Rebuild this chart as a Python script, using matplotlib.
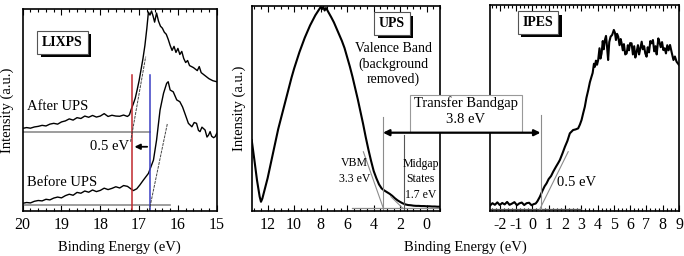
import numpy as np
import matplotlib.pyplot as plt
import matplotlib.patheffects as pe
from matplotlib.patches import ConnectionPatch, Rectangle
from matplotlib.ticker import MultipleLocator

plt.rcParams['font.family'] = ['Liberation Serif', 'DejaVu Serif']
plt.rcParams['axes.unicode_minus'] = False

# ---- LIXPS panel ----
lix_after_x = [20.0, 19.9, 19.8, 19.7, 19.6, 19.5, 19.4, 19.3, 19.2, 19.1,
               19.0, 18.9, 18.8, 18.7, 18.6, 18.5, 18.4, 18.3, 18.2, 18.1,
               18.0, 17.9, 17.8, 17.7, 17.6, 17.5, 17.4, 17.3,
               17.25, 17.2, 17.15, 17.1, 17.05, 17.0, 16.95, 16.9, 16.85, 16.8,
               16.76, 16.72, 16.68, 16.64, 16.6, 16.55, 16.5, 16.45, 16.4, 16.35,
               16.3, 16.25, 16.2, 16.15, 16.1, 16.05, 16.0, 15.95, 15.9, 15.85,
               15.8, 15.75, 15.7, 15.6, 15.5, 15.45, 15.4, 15.3, 15.2, 15.1, 15.0]
lix_after_y = [40.9, 41.3, 41.0, 41.6, 41.9, 42.4, 42.1, 43.0, 43.4, 43.0,
               44.1, 44.6, 45.6, 45.0, 46.2, 45.8, 47.0, 46.4, 47.3, 46.5,
               47.0, 48.2, 46.8, 47.4, 47.0, 46.9, 47.5, 46.8,
               47.6, 50.5, 53.0, 55.8, 60.0, 64.5, 70.0, 75.5, 82.0, 90.5,
               98.5, 97.0, 99.0, 96.5, 93.5, 98.0, 94.0, 91.5, 90.5, 88.5,
               87.5, 85.0, 82.0, 79.5, 81.5, 78.5, 80.5, 77.5, 79.0, 75.5,
               73.5, 74.5, 72.0, 71.0, 69.5, 71.5, 68.5, 67.0, 65.5, 64.5, 64.0]

lix_before_x = [20.0, 19.9, 19.8, 19.7, 19.6, 19.5, 19.4, 19.3, 19.2, 19.1,
                19.0, 18.9, 18.8, 18.7, 18.6, 18.5, 18.4, 18.3, 18.2, 18.1,
                18.0, 17.9, 17.8, 17.7, 17.6, 17.5, 17.4, 17.3, 17.2,
                17.15, 17.06, 16.98, 16.89, 16.76, 16.63, 16.55, 16.46, 16.37, 16.29,
                16.25, 16.2, 16.12, 16.03, 15.95, 15.88, 15.82, 15.73, 15.64, 15.58,
                15.52, 15.47, 15.43, 15.38, 15.3, 15.25, 15.21, 15.17, 15.13, 15.08,
                15.04, 15.0]
lix_before_y = [3.8, 4.2, 4.0, 4.8, 5.2, 5.0, 5.8, 5.5, 6.4, 6.9,
                6.5, 7.6, 8.3, 7.8, 9.2, 8.8, 9.9, 9.3, 10.4, 9.6,
                10.2, 11.3, 10.6, 11.2, 12.0, 11.4, 12.6, 12.2, 10.8,
                10.1, 11.0, 12.9, 15.3, 18.6, 25.2, 35.1, 50.0, 58.3, 63.2,
                64.0, 59.9, 59.0, 55.0, 54.1, 51.5, 48.3, 43.4, 41.7, 43.8,
                43.4, 39.9, 39.3, 41.5, 40.1, 36.6, 37.6, 39.3, 37.0, 36.3,
                36.8, 38.4]

lix_after_base = 39.3
lix_before_base = 3.0
lix_after_edge = 17.19
lix_before_edge = 16.72
lix_after_tangent = ([17.22, 16.83], [34.3, 76.4])
lix_before_tangent = ([16.74, 16.27], [0.2, 43.4])

# ---- UPS panel ----
ups_x = [13.2, 13.0, 12.8, 12.6, 12.5, 12.4, 12.2, 12.0, 11.8, 11.6,
         11.4, 11.2, 11.0, 10.8, 10.6, 10.4, 10.2, 10.0, 9.8, 9.6,
         9.4, 9.2, 9.0, 8.8, 8.6, 8.4, 8.2, 8.0, 7.9, 7.8,
         7.7, 7.6, 7.5, 7.4, 7.2, 7.0, 6.8, 6.6, 6.4, 6.2,
         6.0, 5.8, 5.6, 5.4, 5.2, 5.0, 4.8, 4.6, 4.4, 4.2,
         4.0, 3.8, 3.6, 3.4, 3.2, 3.0, 2.8, 2.6, 2.4, 2.2,
         2.0, 1.8, 1.6, 1.4, 1.2, 1.0, 0.8, 0.6, 0.4, 0.2,
         0.0, -0.2, -0.4, -0.6, -0.8, -1.0]
ups_y = [34.6, 25.0, 15.0, 7.0, 4.5, 6.0, 11.0, 16.0, 22.0, 28.0,
         34.0, 40.0, 45.0, 50.0, 55.0, 60.0, 65.0, 69.5, 73.5, 77.5,
         81.0, 84.5, 87.5, 90.5, 93.0, 95.5, 97.5, 99.5, 98.5, 99.5,
         97.8, 99.0, 98.0, 96.8, 94.5, 92.0, 89.0, 86.0, 83.0, 79.5,
         75.0, 70.5, 65.5, 60.0, 54.5, 48.5, 42.5, 36.0, 30.0, 24.5,
         19.5, 16.0, 13.0, 11.0, 10.0, 9.2, 8.4, 7.4, 6.2, 5.2,
         4.4, 3.7, 3.2, 2.9, 2.8, 2.6, 2.5, 2.5, 2.4, 2.4,
         2.3, 2.3, 2.2, 2.2, 2.1, 2.1]
ups_base = 1.3
ups_vbm = 3.3
ups_midgap = 1.7
ups_vbm_tangent = ([4.78, 3.27], [28.9, 1.3])
ups_mid_tangent = ([2.7, 1.8], [7.0, 1.3])

# ---- IPES panel ----
ipes_x = [-2.6, -2.45, -2.3, -2.15, -2.0, -1.85, -1.7, -1.55, -1.4, -1.25,
          -1.1, -0.95, -0.8, -0.65, -0.5, -0.35, -0.2, -0.05, 0.1, 0.2,
          0.3, 0.46, 0.6, 0.75, 0.87, 1.0, 1.15, 1.28, 1.45, 1.6,
          1.69, 1.85, 2.0, 2.15, 2.3, 2.5, 2.65, 2.81, 2.92, 3.02,
          3.12, 3.22, 3.32, 3.43, 3.53, 3.63, 3.7, 3.78, 3.84, 3.9,
          3.97, 4.04, 4.12, 4.18, 4.25, 4.32, 4.38, 4.45, 4.52, 4.58,
          4.65, 4.72, 4.8, 4.9, 5.0, 5.07, 5.13, 5.2, 5.27, 5.35,
          5.42, 5.48, 5.55, 5.62, 5.7, 5.79, 5.86, 5.93, 6.0, 6.09,
          6.17, 6.25, 6.32, 6.4, 6.48, 6.55, 6.63, 6.71, 6.78, 6.86,
          6.93, 7.01, 7.08, 7.16, 7.24, 7.32, 7.4, 7.48, 7.56, 7.63,
          7.73, 7.8, 7.88, 7.96, 8.04, 8.12, 8.2, 8.28, 8.36, 8.45,
          8.55, 8.66, 8.75, 8.85, 9.0]
ipes_y = [2.6, 3.8, 3.0, 4.2, 2.9, 3.9, 3.2, 4.4, 3.0, 3.6,
          4.3, 2.8, 3.7, 4.1, 2.9, 3.8, 4.0, 2.8, 3.4, 3.6,
          4.6, 6.9, 9.5, 12.0, 13.4, 15.5, 17.0, 19.1, 21.5, 23.5,
          24.8, 28.0, 31.2, 34.0, 37.7, 39.3, 39.6, 40.1, 42.0, 44.2,
          47.5, 50.6, 55.0, 58.7, 62.5, 65.2, 67.0, 71.5, 70.0, 73.0,
          71.0, 73.3, 79.0, 74.0, 76.5, 82.5, 78.5, 83.0, 85.0, 80.0,
          73.3, 82.0, 84.6, 85.5, 87.9, 86.5, 83.0, 86.0, 84.6, 80.5,
          83.5, 81.4, 78.0, 81.0, 76.0, 76.5, 80.5, 78.0, 81.5, 81.4,
          76.0, 80.0, 74.5, 77.3, 80.5, 76.0, 79.0, 82.2, 78.5, 80.0,
          76.5, 74.9, 79.5, 77.0, 82.5, 81.4, 83.0, 77.5, 80.0, 76.0,
          83.8, 82.0, 79.5, 82.0, 78.1, 79.0, 76.5, 80.5, 78.0, 80.6,
          77.0, 73.3, 75.0, 72.5, 70.9]
ipes_base = 0.8
ipes_cbm = 0.5
ipes_tangent = ([0.45, 2.2], [0.8, 28.8])

W, H = 684, 256
fig = plt.figure(figsize=(W / 100, H / 100), dpi=100)


def box(px0, py_top, px1, py_bot):
    return [px0 / W, 1 - py_bot / H, (px1 - px0) / W, (py_bot - py_top) / H]


ax1 = fig.add_axes(box(22.7, 9, 216.7, 211))
ax2 = fig.add_axes(box(251.7, 6, 440, 211))
ax3 = fig.add_axes(box(490, 5, 679, 211))

for ax in (ax1, ax2, ax3):
    ax.set_ylim(0, 100)
    ax.set_yticks([])
    for s in ax.spines.values():
        s.set_linewidth(1.2)
    ax.tick_params(axis='x', which='both', direction='in', top=True,
                   labelsize=11.5, pad=4, width=0.8)
    ax.tick_params(axis='x', which='major', length=4)
    ax.tick_params(axis='x', which='minor', length=2)

gray = '#8c8c8c'
shadow = [pe.withSimplePatchShadow(offset=(2.5, -2.5), shadow_rgbFace='k', alpha=1)]


def label_box(ax, x, y, s):
    t = ax.text(x, y, s, ha='center', va='center', fontsize=10, fontweight='bold',
                bbox=dict(boxstyle='square,pad=0.35', fc='white', ec='#555555', lw=0.8))
    t.get_bbox_patch().set_path_effects(shadow)


# LIXPS
ax1.set_xlim(20, 15)
ax1.xaxis.set_major_locator(MultipleLocator(1))
ax1.xaxis.set_minor_locator(MultipleLocator(0.2))
ax1.plot(lix_after_x, lix_after_y, color='k', lw=1.0)
ax1.plot(lix_before_x, lix_before_y, color='k', lw=1.0)
ax1.plot([20, lix_before_edge], [lix_after_base] * 2, color=gray, lw=1.2)
ax1.plot([20, 16.2], [lix_before_base] * 2, color=gray, lw=1.2)
ax1.plot([lix_after_edge] * 2, [0, 67.3], color='#c0282d', lw=1.1)
ax1.plot([lix_before_edge] * 2, [0, 67.3], color='#3a3fc4', lw=1.1)
ax1.plot(*lix_after_tangent, color='#444444', lw=0.7, ls=(0, (3, 1)))
ax1.plot(*lix_before_tangent, color='#444444', lw=0.7, ls=(0, (3, 1)))
ax1.annotate('', xy=(lix_after_edge, 31.8), xytext=(lix_before_edge, 31.8),
             arrowprops=dict(arrowstyle='-|>', color='k', lw=1.3, mutation_scale=8))
ax1.text(17.75, 31.8, '0.5 eV', ha='center', va='center', fontsize=10.5)
ax1.text(19.9, 51.5, 'After UPS', ha='left', va='center', fontsize=10.5)
ax1.text(19.9, 14.0, 'Before UPS', ha='left', va='center', fontsize=10.5)
label_box(ax1, 18.98, 83.5, 'LIXPS')
ax1.set_xlabel('Binding Energy (eV)', fontsize=10.5, labelpad=6)
ax1.set_ylabel('Intensity (a.u.)', fontsize=10.5, labelpad=6)

# UPS
ax2.set_xlim(13.2, -1.0)
ax2.xaxis.set_major_locator(MultipleLocator(2))
ax2.xaxis.set_minor_locator(MultipleLocator(0.5))
ax2.plot(ups_x, ups_y, color='k', lw=1.5)
ax2.plot([5.66, -1.0], [ups_base] * 2, color=gray, lw=0.9)
ax2.plot(*ups_vbm_tangent, color=gray, lw=0.8)
ax2.plot(*ups_mid_tangent, color=gray, lw=0.8)
ax2.plot([ups_vbm] * 2, [0, 46], color=gray, lw=0.8)
ax2.plot([ups_midgap] * 2, [0, 37], color='#555555', lw=0.8)
label_box(ax2, 2.62, 91.5, 'UPS')
ax2.text(2.54, 71.5, 'Valence Band\n(background\nremoved)', ha='center', va='center',
         fontsize=10, linespacing=1.2)
ax2.text(5.45, 19.5, 'VBM\n3.3 eV', ha='center', va='center', fontsize=8.5,
         linespacing=1.4)
ax2.text(0.45, 15.5, 'Midgap\nStates\n1.7 eV', ha='center', va='center', fontsize=8.5,
         linespacing=1.4)
ax2.set_ylabel('Intensity (a.u.)', fontsize=10.5, labelpad=4)

# IPES
ax3.set_xlim(-2.6, 9.0)
ax3.xaxis.set_major_locator(MultipleLocator(1))
ax3.xaxis.set_minor_locator(MultipleLocator(0.25))
ax3.plot(ipes_x, ipes_y, color='k', lw=1.5)
ax3.plot([-2.6, 3.0], [ipes_base] * 2, color='#555555', lw=0.9)
ax3.plot(*ipes_tangent, color=gray, lw=0.8)
ax3.plot([ipes_cbm] * 2, [0, 46.6], color=gray, lw=0.8)
label_box(ax3, 0.34, 91.5, 'IPES')
ax3.text(2.7, 13.6, '0.5 eV', ha='center', va='center', fontsize=10.5)

fig.text(465 / W, 1 - 247 / H, 'Binding Energy (eV)', ha='center', va='center',
         fontsize=10.5)

# transfer bandgap box and arrow spanning both panels
fig.add_artist(Rectangle((410 / W, 1 - 132 / H), 112 / W, 37 / H,
                         transform=fig.transFigure, fc='white', ec='#999999', lw=0.8))
fig.text(466 / W, 1 - 111.5 / H, 'Transfer Bandgap\n3.8 eV', ha='center', va='center',
         fontsize=10.5, linespacing=1.3)
con = ConnectionPatch(xyA=(ups_vbm, 38.2), coordsA=ax2.transData,
                      xyB=(ipes_cbm, 38.0), coordsB=ax3.transData,
                      arrowstyle='<|-|>', color='k', lw=1.6, mutation_scale=9)
fig.add_artist(con)

fig.savefig('out.png', dpi=100)
